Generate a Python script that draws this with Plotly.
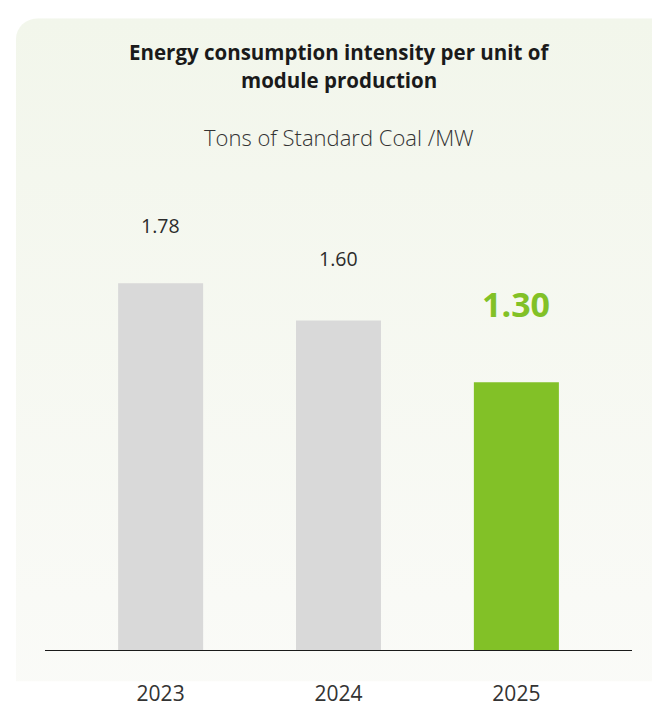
import base64
import plotly.graph_objects as go

# ---- data ----
years = ["2023", "2024", "2025"]
values = [1.78, 1.60, 1.30]
value_labels = ["1.78", "1.60", "1.30"]
title_lines = ["Energy consumption intensity per unit of", "module production"]
unit_text = "Tons of Standard Coal /MW"

# ---- styles ----
W, H = 652, 719
AXIS_Y = 685.0          # pixel row of the x-axis line
PX_PER_UNIT = 223.4
YMAX = 2.0
L, R = 45, 20
B = H - AXIS_Y
T = AXIS_Y - PX_PER_UNIT * YMAX
PW, PH = W - L - R, H - T - B
GRAY = "#D9D9D9"
GREEN = "#82C127"
bar_colors = [GRAY, GRAY, GREEN]
label_colors = ["#2b2b2b", "#2b2b2b", GREEN]
label_sizes = [19.5, 19.5, 34]
label_weights = ["normal", "normal", "bold"]
label_shifts = [58, 62, 78]
title_y = [36.5, 67.0]
unit_y = 128.5
FONT = "Open Sans"
PAGE_BG = "#FBFBF9"

def py2paper(py):
    return (H - B - py) / PH

# background card with gradient as svg (figure pixel coords)
svg = f'''<svg xmlns="http://www.w3.org/2000/svg" width="{W}" height="{H}" viewBox="0 0 {W} {H}">
<defs><linearGradient id="g" x1="0" y1="0" x2="0" y2="1">
<stop offset="0" stop-color="#F2F6EB"/><stop offset="1" stop-color="{PAGE_BG}"/></linearGradient></defs>
<rect x="0" y="0" width="{W}" height="{H}" fill="#FFFFFF"/>
<rect x="16" y="0" width="700" height="800" rx="22" ry="22" fill="url(#g)"/>
</svg>'''
src = "data:image/svg+xml;base64," + base64.b64encode(svg.encode()).decode()

fig = go.Figure()
fig.add_trace(go.Bar(
    x=list(range(len(years))), y=values, width=0.478,
    marker=dict(color=bar_colors, line=dict(width=0)),
    hoverinfo="skip",
))

annotations = []
for i, (v, t) in enumerate(zip(values, value_labels)):
    annotations.append(dict(
        x=i, y=v, xref="x", yref="y", text=t, showarrow=False,
        yanchor="middle", xanchor="center", yshift=label_shifts[i],
        font=dict(family=FONT, size=label_sizes[i], color=label_colors[i],
                  weight=label_weights[i]),
    ))
for line, ty in zip(title_lines, title_y):
    annotations.append(dict(
        x=0.5, y=py2paper(ty), xref="paper", yref="paper", text=line,
        showarrow=False, xanchor="center", yanchor="middle",
        font=dict(family=FONT, size=20.5, color="#1a1a1a", weight="bold"),
    ))
annotations.append(dict(
    x=0.5, y=py2paper(unit_y), xref="paper", yref="paper", text=unit_text,
    showarrow=False, xanchor="center", yanchor="middle",
    font=dict(family=FONT, size=22, color="#333333", weight=300),
))

fig.update_layout(
    width=W, height=H,
    margin=dict(l=L, r=R, t=T, b=B, pad=0),
    paper_bgcolor="#FFFFFF", plot_bgcolor="rgba(0,0,0,0)",
    showlegend=False,
    font=dict(family=FONT, color="#333333"),
    annotations=annotations,
    images=[dict(source=src, xref="paper", yref="paper",
                 x=-L / PW, y=(H - B) / PH, sizex=W / PW, sizey=H / PH,
                 xanchor="left", yanchor="top", sizing="stretch", layer="below")],
    xaxis=dict(range=[-0.65, 2.65], tickmode="array",
               tickvals=list(range(len(years))), ticktext=years,
               showline=True, linecolor="#1a1a1a", linewidth=1.3,
               showgrid=False, zeroline=False, ticks="",
               ticklabelstandoff=25, tickfont=dict(size=21, color="#333333")),
    yaxis=dict(range=[0, YMAX], visible=False, showgrid=False, zeroline=False),
)

fig.write_html(
    "out.html", config={"displayModeBar": False},
    post_script=("document.body.style.margin='0';document.body.style.overflow='hidden';"
                 f"document.body.style.background='{PAGE_BG}';"
                 f"document.documentElement.style.background='{PAGE_BG}';"),
)
